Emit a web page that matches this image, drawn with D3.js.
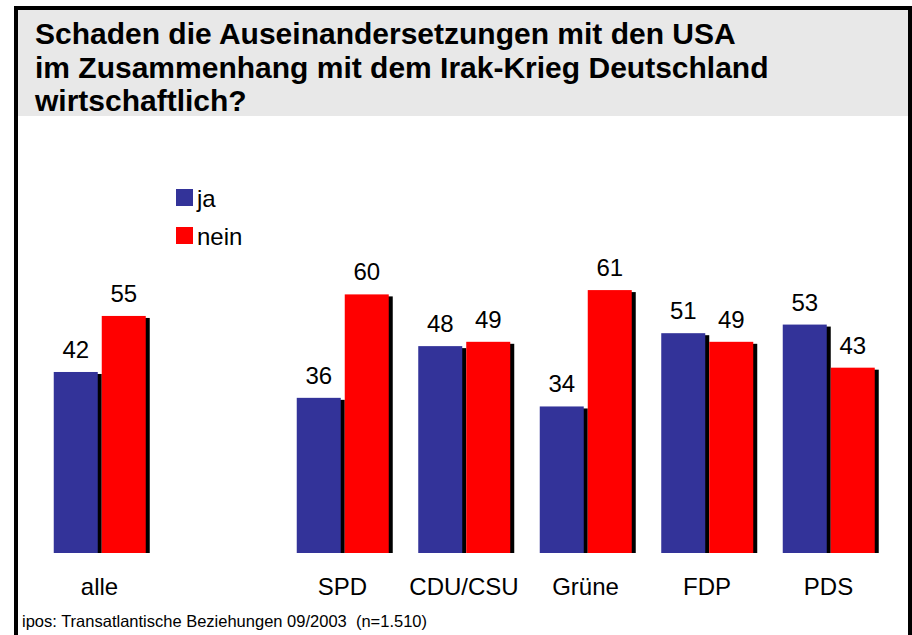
<svg id="svg" width="912" height="635"></svg>
<script src="https://cdn.jsdelivr.net/npm/d3@7"></script>
<script>
    // data
    var categories = ["alle", "", "SPD", "CDU/CSU", "Grüne", "FDP", "PDS"];
    var series = ["ja", "nein"];
    var jaValues = [42, null, 36, 48, 34, 51, 53];
    var neinValues = [55, null, 60, 49, 61, 49, 43];
    var colors = ["#333399", "#ff0000"];
    var titleLines = [
        "Schaden die Auseinandersetzungen mit den USA",
        "im Zusammenhang mit dem Irak-Krieg Deutschland",
        "wirtschaftlich?"
    ];
    var source = "ipos: Transatlantische Beziehungen 09/2003  (n=1.510)";

    var font = "'Liberation Sans', Arial, sans-serif";
    var svg = d3.select("#svg").style("font-family", font);

    // frame + title band
    svg.append("rect").attr("x", 0).attr("y", 0).attr("width", 912).attr("height", 635).attr("fill", "#fff");
    svg.append("rect")
        .attr("x", 16).attr("y", 8).attr("width", 894).attr("height", 660)
        .attr("fill", "none").attr("stroke", "#000").attr("stroke-width", 4);
    svg.append("rect")
        .attr("x", 18).attr("y", 10).attr("width", 890).attr("height", 106)
        .attr("fill", "#e8e8e8");

    svg.selectAll("text.title")
        .data(titleLines)
        .enter().append("text")
        .attr("class", "title")
        .attr("x", 35)
        .attr("y", function (d, i) { return 44 + i * 33.5; })
        .attr("font-size", 30).attr("font-weight", "bold")
        .text(function (d) { return d; });

    // scales
    var x = d3.scaleBand().domain(d3.range(categories.length)).range([38.75, 889.25]);
    var xs = d3.scaleBand().domain(series).range([15, 107]).paddingInner(0.0833);
    var y = d3.scaleLinear().domain([0, 100]).range([553, 122]);

    var rows = [];
    categories.forEach(function (c, i) {
        if (jaValues[i] == null) return;
        rows.push({ i: i, s: "ja", v: jaValues[i], c: colors[0] });
        rows.push({ i: i, s: "nein", v: neinValues[i], c: colors[1] });
    });

    var bx = function (d) { return x(d.i) + xs(d.s); };

    // shadows
    svg.selectAll("rect.shadow")
        .data(rows).enter().append("rect")
        .attr("class", "shadow")
        .attr("x", function (d) { return bx(d) + 4; })
        .attr("y", function (d) { return y(d.v) + 2; })
        .attr("width", xs.bandwidth())
        .attr("height", function (d) { return y(0) - y(d.v) - 2; })
        .attr("fill", "#000");

    svg.selectAll("rect.bar")
        .data(rows).enter().append("rect")
        .attr("class", "bar")
        .attr("x", bx)
        .attr("y", function (d) { return y(d.v); })
        .attr("width", xs.bandwidth())
        .attr("height", function (d) { return y(0) - y(d.v); })
        .attr("fill", function (d) { return d.c; });

    svg.selectAll("text.val")
        .data(rows).enter().append("text")
        .attr("class", "val")
        .attr("x", function (d) { return bx(d) + xs.bandwidth() / 2; })
        .attr("y", function (d) { return y(d.v) - 14; })
        .attr("text-anchor", "middle")
        .attr("font-size", 24)
        .text(function (d) { return d.v; });

    // category labels
    svg.selectAll("text.cat")
        .data(categories).enter().append("text")
        .attr("class", "cat")
        .attr("x", function (d, i) { return x(i) + x.bandwidth() / 2; })
        .attr("y", 595)
        .attr("text-anchor", "middle")
        .attr("font-size", 24)
        .text(function (d) { return d; });

    // legend
    var legend = svg.selectAll("g.legend")
        .data(series).enter().append("g")
        .attr("class", "legend")
        .attr("transform", function (d, i) { return "translate(176," + (189 + i * 38) + ")"; });
    legend.append("rect")
        .attr("width", 17).attr("height", 17)
        .attr("fill", function (d, i) { return colors[i]; });
    legend.append("text")
        .attr("x", 21).attr("y", 18)
        .attr("font-size", 24)
        .text(function (d) { return d; });

    svg.append("text")
        .attr("x", 22).attr("y", 627)
        .attr("font-size", 16.5)
        .style("white-space", "pre")
        .text(source);
</script>
<style>
    html,
    body {
        margin: 0;
        padding: 0;
    }
</style>
